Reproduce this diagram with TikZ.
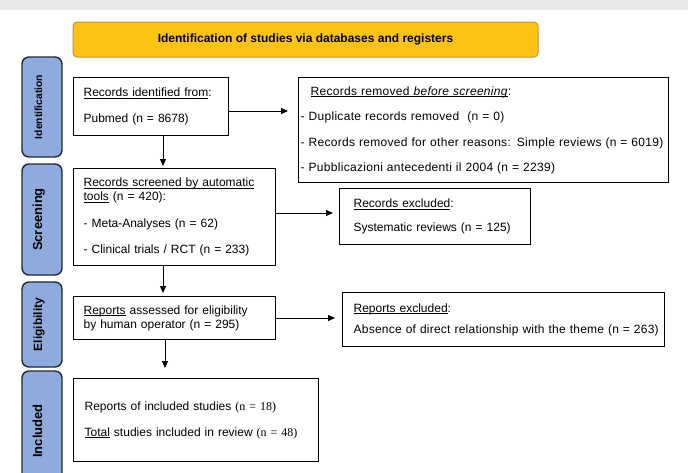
\documentclass[tikz,border=0pt]{standalone}
\usepackage{fontspec}
\setmainfont{Liberation Sans}
\newfontfamily\timesnum{Liberation Serif}
\usepackage{tikz}
\usetikzlibrary{arrows.meta, positioning, calc}
\definecolor{headfill}{HTML}{FCC214}
\definecolor{headline}{HTML}{C9952B}
\definecolor{phasefill}{HTML}{8FAADC}
\definecolor{phaseline}{HTML}{222831}
\definecolor{bandgray}{HTML}{E6E7E9}
\newcommand\boxfont{\fontsize{12}{14}\selectfont}
\newcommand\ulin[1]{\underline{\raisebox{0pt}[\height][0pt]{#1}}}
\tikzset{
  >={Triangle[length=7pt, width=6pt]},
  head/.style  = {draw=headline, fill=headfill, rounded corners=4pt,
                  line width=1pt, minimum width=465pt, minimum height=35pt,
                  font=\fontsize{12}{14}\selectfont\bfseries},
  phase/.style = {draw=phaseline, fill=phasefill, rounded corners=7pt,
                  line width=1.4pt, rotate=90, minimum height=40pt,
                  text height=9pt, text depth=9pt,
                  font=\fontsize{13}{15}\selectfont\bfseries},
  box/.style   = {draw, line width=1.3pt, anchor=north west, align=left,
                  inner xsep=10pt, inner ysep=0pt, font=\boxfont},
  arrow/.style = {->, line width=0.9pt},
}

\begin{document}
\begin{tikzpicture}[x=1pt, y=-1pt]
  \useasboundingbox (0,0) rectangle (688,472);
  \clip (0,0) rectangle (688,472);
  \fill[bandgray] (0,0) rectangle (688,10);

  \node[head] (head) at (305.5,39.5) {Identification of studies via databases and registers};

  % phases
  \node[phase, minimum width=100pt, font=\fontsize{10.3}{12}\selectfont\bfseries]
                                       (pid)   at (42,107)   {Identification};
  \node[phase, minimum width=111pt]    (pscr)  at (42,219.5) {Screening};
  \node[phase, minimum width=85pt, font=\fontsize{12}{14}\selectfont\bfseries]
                                       (pelig) at (42,324.5) {Eligibility};
  \node[phase, minimum width=120pt]    (pinc)  at (42,431)   {Included};

  % boxes
  \node[box, text width=135pt, minimum height=58pt] (ident) at (73,77)
    {\ulin{Records identified from}:\\[12pt] Pubmed (n = 8678)};
  \node[box, text width=366pt, inner xsep=2pt, minimum height=105pt,
        font=\boxfont\addfontfeature{LetterSpace=2.5}] (removed) at (298,77)
    {\hspace*{10pt}\ulin{Records removed \textit{before screening}}:\\[11.5pt]
     - Duplicate records removed~ (n = 0)\\[11.5pt]
     - Records removed for other reasons: Simple reviews (n = 6019)\\[11.5pt]
     - Pubblicazioni antecedenti il 2004 (n = 2239)};
  \node[box, text width=182pt, minimum height=97pt] (screen) at (73,168)
    {\ulin{Records screened by automatic}\\ \ulin{tools} (n = 420):\\[13pt]
     - Meta-Analyses (n = 62)\\[12pt] - Clinical trials / RCT (n = 233)};
  \node[box, text width=163pt, inner xsep=14pt, minimum height=56pt] (excl) at (339,188)
    {\ulin{Records excluded}:\\[10pt] Systematic reviews (n = 125)};
  \node[box, text width=182pt, minimum height=43pt] (assess) at (73,296)
    {\ulin{Reports} assessed for eligibility\\ by human operator (n = 295)};
  \node[box, text width=300pt, inner xsep=11pt, minimum height=54pt] (rexcl) at (342,292)
    {\ulin{Reports excluded}:\\[7pt]
     \mbox{\addfontfeature{LetterSpace=2}Absence of direct relationship with the theme (n = 263)}};
  \node[box, text width=223pt, inner xsep=11pt, minimum height=83pt] (incl) at (73,378)
    {Reports of included studies {\timesnum(n = 18)}\\[12pt]
     \ulin{Total} studies included in review {\timesnum(n = 48)}};

  % arrows
  \draw[arrow, shorten >=10pt] (ident.east |- 0,111)  -- (removed.west |- 0,111);
  \draw[arrow, shorten >=6pt]  (screen.east |- 0,213) -- (excl.west |- 0,213);
  \draw[arrow, shorten >=7pt]  (assess.east |- 0,318) -- (rexcl.west |- 0,318);
  \foreach \a/\b/\x/\g in {ident/screen/163/2, screen/assess/163/3, assess/incl/165/10}
    \draw[arrow, shorten >=\g pt] (\a.south -| \x,0) -- (\b.north -| \x,0);
\end{tikzpicture}
\end{document}
